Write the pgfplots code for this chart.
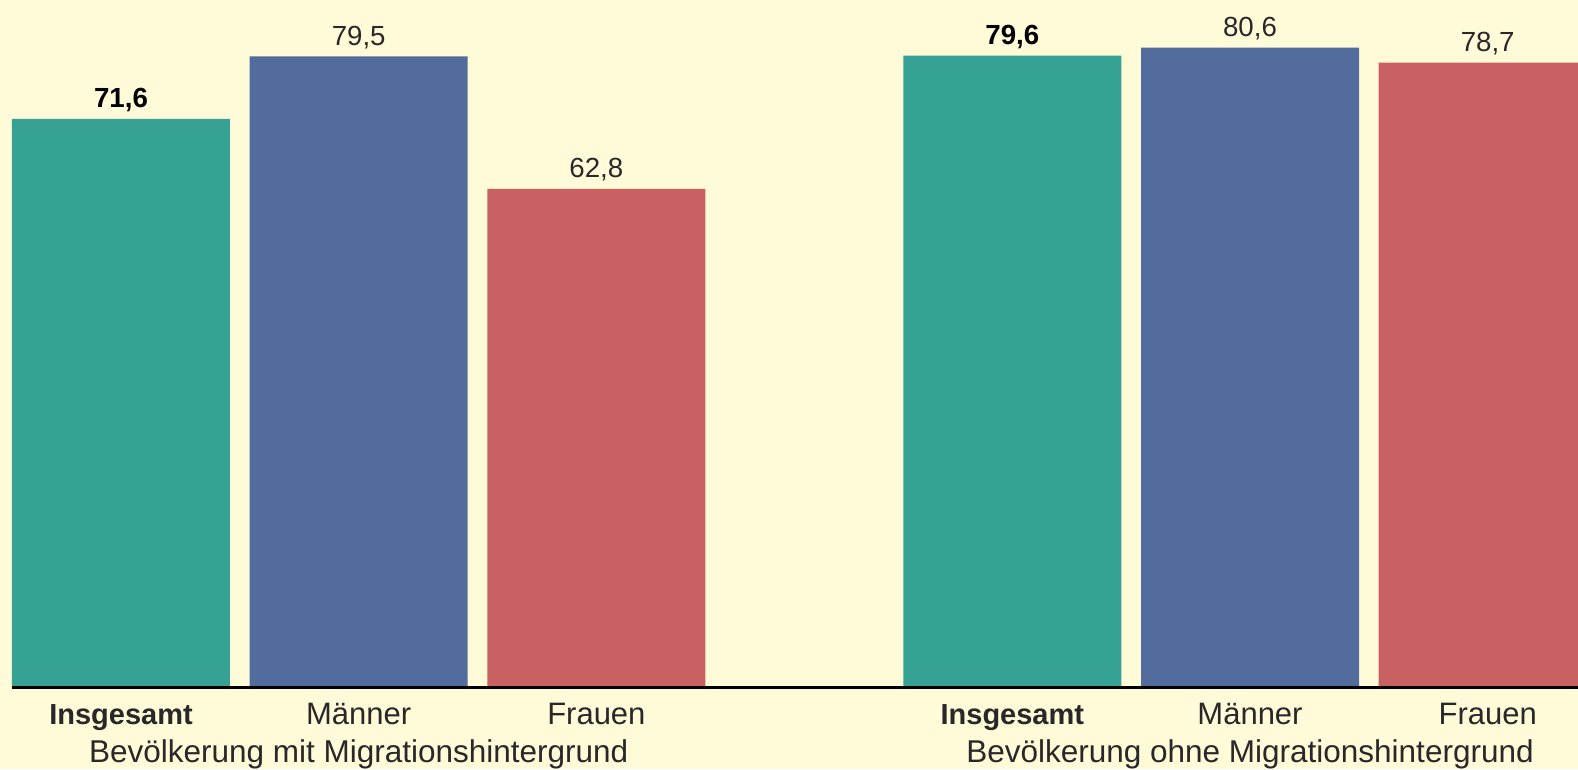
\documentclass[border=0pt]{standalone}
\usepackage{fontspec}
\setmainfont{Liberation Sans}
\usepackage{pgfplots}
\pgfplotsset{compat=1.18}
\definecolor{bgcol}{RGB}{255,251,216}
\definecolor{cteal}{RGB}{54,162,148}
\definecolor{cblue}{RGB}{82,108,158}
\definecolor{cred}{RGB}{201,96,97}
\definecolor{txt}{RGB}{40,40,40}
\begin{document}
\begin{tikzpicture}
\fill[bgcol] (0,-24.6pt) rectangle (473.4pt,206.1pt);
\begin{axis}[
  at={(0,0)}, anchor=south west,
  scale only axis, width=473.4pt, height=206.1pt,
  xmin=-0.509, xmax=6.13, ymin=0, ymax=86.6,
  axis line style={draw=none},
  ytick=\empty,
  xtick={0,1,2,3.75,4.75,5.75},
  xticklabels={{\bfseries\fontsize{8.7}{10}\selectfont Insgesamt},Männer,Frauen,{\bfseries\fontsize{8.7}{10}\selectfont Insgesamt},Männer,Frauen},
  major tick length=0pt,
  xticklabel style={anchor=base, yshift=-11.1pt, font=\fontsize{9.3}{11}\selectfont, text=txt, inner sep=0pt},
  ybar, bar width=65.4pt, bar shift=0pt,
  nodes near coords,
  /pgf/number format/.cd, fixed, precision=1, fixed zerofill, use comma, assume math mode=true,
  /pgfplots/.cd,
  nodes near coords style={anchor=base, yshift=3.3pt, inner sep=0pt, font=\fontsize{8.3}{10}\selectfont, text=txt},
]
\addplot[fill=cteal, draw=none, nodes near coords style={font=\bfseries\fontsize{8.3}{10}\selectfont, text=black}] coordinates {(0,71.6) (3.75,79.6)};
\addplot[fill=cblue, draw=none] coordinates {(1,79.5) (4.75,80.6)};
\addplot[fill=cred, draw=none] coordinates {(2,62.8) (5.75,78.7)};
\coordinate (a0) at (axis cs:-0.459,0);
\coordinate (g1) at (axis cs:1,0);
\coordinate (g2) at (axis cs:4.75,0);
\end{axis}
\draw[line width=0.9pt, black] (a0) -- (480pt,0);
\node[anchor=base, font=\fontsize{9.45}{11}\selectfont, text=txt, inner sep=0pt] at ([yshift=-22.5pt]g1) {Bevölkerung mit Migrationshintergrund};
\node[anchor=base, font=\fontsize{9.45}{11}\selectfont, text=txt, inner sep=0pt] at ([yshift=-22.5pt]g2) {Bevölkerung ohne Migrationshintergrund};
\pgfresetboundingbox
\useasboundingbox (0,-24.6pt) rectangle (473.4pt,206.1pt);
\end{tikzpicture}
\end{document}
